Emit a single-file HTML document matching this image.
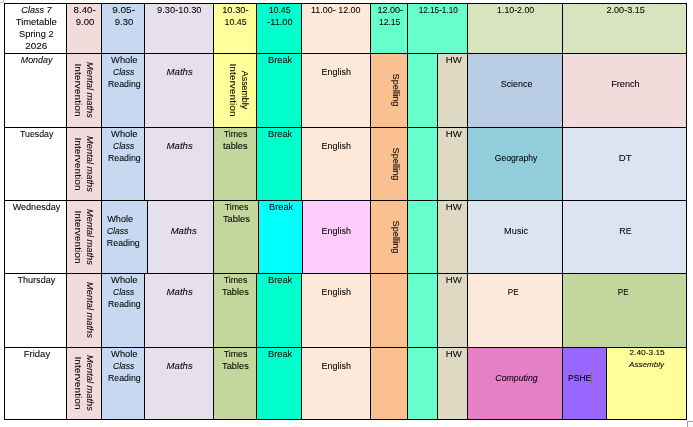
<!DOCTYPE html>
<html><head><meta charset="utf-8"><title>Class 7 Timetable</title>
<style>
html,body{margin:0;padding:0;background:#fff;}
body{width:693px;height:427px;position:relative;overflow:hidden;font-family:"Liberation Sans",sans-serif;color:#000;}
.c{position:absolute;}
#tx{position:absolute;left:0;top:0;width:693px;height:427px;will-change:transform;}
.l{position:absolute;background:#000;}
.t{position:absolute;white-space:nowrap;line-height:12px;display:block;transform-origin:50% 50%;-webkit-text-stroke:0.07px #000;}
</style></head><body>
<div class="c" style="left:4px;top:3px;width:62px;height:50px;background:#FFFFFF"></div>
<div class="c" style="left:66px;top:3px;width:35px;height:50px;background:#F2DCDB"></div>
<div class="c" style="left:101px;top:3px;width:43px;height:50px;background:#C6D9F1"></div>
<div class="c" style="left:144px;top:3px;width:69px;height:50px;background:#E5E0EC"></div>
<div class="c" style="left:213px;top:3px;width:43px;height:50px;background:#FFFF99"></div>
<div class="c" style="left:256px;top:3px;width:45px;height:50px;background:#00FFCC"></div>
<div class="c" style="left:301px;top:3px;width:69px;height:50px;background:#FDE9D9"></div>
<div class="c" style="left:370px;top:3px;width:37px;height:50px;background:#66FFCC"></div>
<div class="c" style="left:407px;top:3px;width:60px;height:50px;background:#66FFCC"></div>
<div class="c" style="left:467px;top:3px;width:95px;height:50px;background:#D7E4BD"></div>
<div class="c" style="left:562px;top:3px;width:124px;height:50px;background:#D7E4BD"></div>
<div class="c" style="left:4px;top:53px;width:62px;height:74px;background:#FFFFFF"></div>
<div class="c" style="left:66px;top:53px;width:35px;height:74px;background:#F2DCDB"></div>
<div class="c" style="left:101px;top:53px;width:43px;height:74px;background:#C6D9F1"></div>
<div class="c" style="left:144px;top:53px;width:69px;height:74px;background:#E5E0EC"></div>
<div class="c" style="left:213px;top:53px;width:43px;height:74px;background:#FFFF99"></div>
<div class="c" style="left:256px;top:53px;width:45px;height:74px;background:#00FFCC"></div>
<div class="c" style="left:301px;top:53px;width:69px;height:74px;background:#FDE9D9"></div>
<div class="c" style="left:370px;top:53px;width:37px;height:74px;background:#FAC090"></div>
<div class="c" style="left:407px;top:53px;width:30px;height:74px;background:#66FFCC"></div>
<div class="c" style="left:437px;top:53px;width:30px;height:74px;background:#DDD9C3"></div>
<div class="c" style="left:467px;top:53px;width:95px;height:74px;background:#B8CCE4"></div>
<div class="c" style="left:562px;top:53px;width:124px;height:74px;background:#F2DCDB"></div>
<div class="c" style="left:4px;top:127px;width:62px;height:73px;background:#FFFFFF"></div>
<div class="c" style="left:66px;top:127px;width:35px;height:73px;background:#F2DCDB"></div>
<div class="c" style="left:101px;top:127px;width:43px;height:73px;background:#C6D9F1"></div>
<div class="c" style="left:144px;top:127px;width:69px;height:73px;background:#E5E0EC"></div>
<div class="c" style="left:213px;top:127px;width:43px;height:73px;background:#C3D69B"></div>
<div class="c" style="left:256px;top:127px;width:45px;height:73px;background:#00FFCC"></div>
<div class="c" style="left:301px;top:127px;width:69px;height:73px;background:#FDE9D9"></div>
<div class="c" style="left:370px;top:127px;width:37px;height:73px;background:#FAC090"></div>
<div class="c" style="left:407px;top:127px;width:30px;height:73px;background:#66FFCC"></div>
<div class="c" style="left:437px;top:127px;width:30px;height:73px;background:#DDD9C3"></div>
<div class="c" style="left:467px;top:127px;width:95px;height:73px;background:#92CDDC"></div>
<div class="c" style="left:562px;top:127px;width:124px;height:73px;background:#DBE5F1"></div>
<div class="c" style="left:4px;top:200px;width:62px;height:73px;background:#FFFFFF"></div>
<div class="c" style="left:66px;top:200px;width:35px;height:73px;background:#F2DCDB"></div>
<div class="c" style="left:101px;top:200px;width:46px;height:73px;background:#C6D9F1"></div>
<div class="c" style="left:147px;top:200px;width:66px;height:73px;background:#E5E0EC"></div>
<div class="c" style="left:213px;top:200px;width:45px;height:73px;background:#C3D69B"></div>
<div class="c" style="left:258px;top:200px;width:44px;height:73px;background:#00FFFF"></div>
<div class="c" style="left:302px;top:200px;width:68px;height:73px;background:#FFCCFF"></div>
<div class="c" style="left:370px;top:200px;width:37px;height:73px;background:#FAC090"></div>
<div class="c" style="left:407px;top:200px;width:30px;height:73px;background:#66FFCC"></div>
<div class="c" style="left:437px;top:200px;width:30px;height:73px;background:#DDD9C3"></div>
<div class="c" style="left:467px;top:200px;width:95px;height:73px;background:#DBE5F1"></div>
<div class="c" style="left:562px;top:200px;width:124px;height:73px;background:#DBE5F1"></div>
<div class="c" style="left:4px;top:273px;width:62px;height:74px;background:#FFFFFF"></div>
<div class="c" style="left:66px;top:273px;width:35px;height:74px;background:#F2DCDB"></div>
<div class="c" style="left:101px;top:273px;width:43px;height:74px;background:#C6D9F1"></div>
<div class="c" style="left:144px;top:273px;width:69px;height:74px;background:#E5E0EC"></div>
<div class="c" style="left:213px;top:273px;width:43px;height:74px;background:#C3D69B"></div>
<div class="c" style="left:256px;top:273px;width:45px;height:74px;background:#00FFCC"></div>
<div class="c" style="left:301px;top:273px;width:69px;height:74px;background:#FDE9D9"></div>
<div class="c" style="left:370px;top:273px;width:37px;height:74px;background:#FAC090"></div>
<div class="c" style="left:407px;top:273px;width:30px;height:74px;background:#66FFCC"></div>
<div class="c" style="left:437px;top:273px;width:30px;height:74px;background:#DDD9C3"></div>
<div class="c" style="left:467px;top:273px;width:95px;height:74px;background:#FDE9D9"></div>
<div class="c" style="left:562px;top:273px;width:124px;height:74px;background:#C3D69B"></div>
<div class="c" style="left:4px;top:347px;width:62px;height:72px;background:#FFFFFF"></div>
<div class="c" style="left:66px;top:347px;width:35px;height:72px;background:#F2DCDB"></div>
<div class="c" style="left:101px;top:347px;width:43px;height:72px;background:#C6D9F1"></div>
<div class="c" style="left:144px;top:347px;width:69px;height:72px;background:#E5E0EC"></div>
<div class="c" style="left:213px;top:347px;width:43px;height:72px;background:#C3D69B"></div>
<div class="c" style="left:256px;top:347px;width:45px;height:72px;background:#00FFCC"></div>
<div class="c" style="left:301px;top:347px;width:69px;height:72px;background:#FDE9D9"></div>
<div class="c" style="left:370px;top:347px;width:37px;height:72px;background:#FAC090"></div>
<div class="c" style="left:407px;top:347px;width:30px;height:72px;background:#66FFCC"></div>
<div class="c" style="left:437px;top:347px;width:30px;height:72px;background:#DDD9C3"></div>
<div class="c" style="left:467px;top:347px;width:95px;height:72px;background:#E47FC8"></div>
<div class="c" style="left:562px;top:347px;width:44px;height:72px;background:#9966FF"></div>
<div class="c" style="left:606px;top:347px;width:80px;height:72px;background:#FFFF99"></div>
<div class="l" style="left:4px;top:53px;width:1px;height:75px"></div>
<div class="l" style="left:66px;top:53px;width:1px;height:75px"></div>
<div class="l" style="left:101px;top:53px;width:1px;height:75px"></div>
<div class="l" style="left:144px;top:53px;width:1px;height:75px"></div>
<div class="l" style="left:213px;top:53px;width:1px;height:75px"></div>
<div class="l" style="left:256px;top:53px;width:1px;height:75px"></div>
<div class="l" style="left:301px;top:53px;width:1px;height:75px"></div>
<div class="l" style="left:370px;top:53px;width:1px;height:75px"></div>
<div class="l" style="left:407px;top:53px;width:1px;height:75px"></div>
<div class="l" style="left:437px;top:53px;width:1px;height:75px"></div>
<div class="l" style="left:467px;top:53px;width:1px;height:75px"></div>
<div class="l" style="left:562px;top:53px;width:1px;height:75px"></div>
<div class="l" style="left:686px;top:53px;width:1px;height:75px"></div>
<div class="l" style="left:4px;top:127px;width:1px;height:74px"></div>
<div class="l" style="left:66px;top:127px;width:1px;height:74px"></div>
<div class="l" style="left:101px;top:127px;width:1px;height:74px"></div>
<div class="l" style="left:144px;top:127px;width:1px;height:74px"></div>
<div class="l" style="left:213px;top:127px;width:1px;height:74px"></div>
<div class="l" style="left:256px;top:127px;width:1px;height:74px"></div>
<div class="l" style="left:301px;top:127px;width:1px;height:74px"></div>
<div class="l" style="left:370px;top:127px;width:1px;height:74px"></div>
<div class="l" style="left:407px;top:127px;width:1px;height:74px"></div>
<div class="l" style="left:437px;top:127px;width:1px;height:74px"></div>
<div class="l" style="left:467px;top:127px;width:1px;height:74px"></div>
<div class="l" style="left:562px;top:127px;width:1px;height:74px"></div>
<div class="l" style="left:686px;top:127px;width:1px;height:74px"></div>
<div class="l" style="left:4px;top:200px;width:1px;height:74px"></div>
<div class="l" style="left:66px;top:200px;width:1px;height:74px"></div>
<div class="l" style="left:101px;top:200px;width:1px;height:74px"></div>
<div class="l" style="left:147px;top:200px;width:1px;height:74px"></div>
<div class="l" style="left:213px;top:200px;width:1px;height:74px"></div>
<div class="l" style="left:258px;top:200px;width:1px;height:74px"></div>
<div class="l" style="left:302px;top:200px;width:1px;height:74px"></div>
<div class="l" style="left:370px;top:200px;width:1px;height:74px"></div>
<div class="l" style="left:407px;top:200px;width:1px;height:74px"></div>
<div class="l" style="left:437px;top:200px;width:1px;height:74px"></div>
<div class="l" style="left:467px;top:200px;width:1px;height:74px"></div>
<div class="l" style="left:562px;top:200px;width:1px;height:74px"></div>
<div class="l" style="left:686px;top:200px;width:1px;height:74px"></div>
<div class="l" style="left:4px;top:273px;width:1px;height:75px"></div>
<div class="l" style="left:66px;top:273px;width:1px;height:75px"></div>
<div class="l" style="left:101px;top:273px;width:1px;height:75px"></div>
<div class="l" style="left:144px;top:273px;width:1px;height:75px"></div>
<div class="l" style="left:213px;top:273px;width:1px;height:75px"></div>
<div class="l" style="left:256px;top:273px;width:1px;height:75px"></div>
<div class="l" style="left:301px;top:273px;width:1px;height:75px"></div>
<div class="l" style="left:370px;top:273px;width:1px;height:75px"></div>
<div class="l" style="left:407px;top:273px;width:1px;height:75px"></div>
<div class="l" style="left:437px;top:273px;width:1px;height:75px"></div>
<div class="l" style="left:467px;top:273px;width:1px;height:75px"></div>
<div class="l" style="left:562px;top:273px;width:1px;height:75px"></div>
<div class="l" style="left:686px;top:273px;width:1px;height:75px"></div>
<div class="l" style="left:4px;top:347px;width:1px;height:73px"></div>
<div class="l" style="left:66px;top:347px;width:1px;height:73px"></div>
<div class="l" style="left:101px;top:347px;width:1px;height:73px"></div>
<div class="l" style="left:144px;top:347px;width:1px;height:73px"></div>
<div class="l" style="left:213px;top:347px;width:1px;height:73px"></div>
<div class="l" style="left:256px;top:347px;width:1px;height:73px"></div>
<div class="l" style="left:301px;top:347px;width:1px;height:73px"></div>
<div class="l" style="left:370px;top:347px;width:1px;height:73px"></div>
<div class="l" style="left:407px;top:347px;width:1px;height:73px"></div>
<div class="l" style="left:437px;top:347px;width:1px;height:73px"></div>
<div class="l" style="left:467px;top:347px;width:1px;height:73px"></div>
<div class="l" style="left:562px;top:347px;width:1px;height:73px"></div>
<div class="l" style="left:686px;top:347px;width:1px;height:73px"></div>
<div class="l" style="left:606px;top:347px;width:1px;height:73px"></div>
<div class="l" style="left:4px;top:3px;width:1px;height:51px"></div>
<div class="l" style="left:66px;top:3px;width:1px;height:51px"></div>
<div class="l" style="left:101px;top:3px;width:1px;height:51px"></div>
<div class="l" style="left:144px;top:3px;width:1px;height:51px"></div>
<div class="l" style="left:213px;top:3px;width:1px;height:51px"></div>
<div class="l" style="left:256px;top:3px;width:1px;height:51px"></div>
<div class="l" style="left:301px;top:3px;width:1px;height:51px"></div>
<div class="l" style="left:370px;top:3px;width:1px;height:51px"></div>
<div class="l" style="left:407px;top:3px;width:1px;height:51px"></div>
<div class="l" style="left:467px;top:3px;width:1px;height:51px"></div>
<div class="l" style="left:562px;top:3px;width:1px;height:51px"></div>
<div class="l" style="left:686px;top:3px;width:1px;height:51px"></div>
<div class="l" style="left:4px;top:3px;width:683px;height:1px"></div>
<div class="l" style="left:4px;top:53px;width:683px;height:1px"></div>
<div class="l" style="left:4px;top:127px;width:683px;height:1px"></div>
<div class="l" style="left:4px;top:200px;width:683px;height:1px"></div>
<div class="l" style="left:4px;top:273px;width:683px;height:1px"></div>
<div class="l" style="left:4px;top:347px;width:683px;height:1px"></div>
<div class="l" style="left:4px;top:419px;width:683px;height:1px"></div>
<div id="tx">
<span class="t" style="left:21.29px;top:3.78px;font-size:9.3px;transform:scaleX(0.976);font-style:italic;">Class 7</span>
<span class="t" style="left:16.41px;top:15.78px;font-size:9.3px;transform:scaleX(1.013);">Timetable</span>
<span class="t" style="left:19.08px;top:27.78px;font-size:9.3px;transform:scaleX(0.996);">Spring 2</span>
<span class="t" style="left:26.11px;top:39.78px;font-size:9.3px;transform:scaleX(1.066);">2026</span>
<span class="t" style="left:74.25px;top:3.78px;font-size:9.3px;transform:scaleX(1.040);">8.40-</span>
<span class="t" style="left:75.55px;top:15.78px;font-size:9.3px;transform:scaleX(1.023);">9.00</span>
<span class="t" style="left:113.30px;top:3.78px;font-size:9.3px;transform:scaleX(1.074);">9.05-</span>
<span class="t" style="left:114.75px;top:15.78px;font-size:9.3px;transform:scaleX(1.023);">9.30</span>
<span class="t" style="left:157.06px;top:3.78px;font-size:9.3px;">9.30-10.30</span>
<span class="t" style="left:222.21px;top:3.78px;font-size:9.3px;">10.30-</span>
<span class="t" style="left:223.51px;top:15.78px;font-size:9.3px;transform:scaleX(0.952);">10.45</span>
<span class="t" style="left:267.61px;top:3.78px;font-size:9.3px;transform:scaleX(0.943);">10.45</span>
<span class="t" style="left:266.76px;top:15.78px;font-size:9.3px;transform:scaleX(0.985);">-11.00</span>
<span class="t" style="left:309.98px;top:3.78px;font-size:9.3px;transform:scaleX(0.962);">11.00- 12.00</span>
<span class="t" style="left:376.81px;top:3.78px;font-size:9.3px;transform:scaleX(0.966);">12.00-</span>
<span class="t" style="left:378.36px;top:15.78px;font-size:9.3px;transform:scaleX(0.921);">12.15</span>
<span class="t" style="left:416.06px;top:3.78px;font-size:9.3px;transform:scaleX(0.881);">12.15-1.10</span>
<span class="t" style="left:496.20px;top:3.78px;font-size:9.3px;transform:scaleX(0.945);">1.10-2.00</span>
<span class="t" style="left:605.55px;top:3.78px;font-size:9.3px;transform:scaleX(0.979);">2.00-3.15</span>
<span class="t" style="left:20.11px;top:53.78px;font-size:9.3px;transform:scaleX(0.954);font-style:italic;">Monday</span>
<span class="t" style="left:62.11px;top:83.70px;font-size:9.3px;transform:rotate(90deg);font-style:italic;">Mental maths</span>
<span class="t" style="left:53.92px;top:83.70px;font-size:9.3px;transform:rotate(90deg) scaleX(1.094);">Intervention</span>
<span class="t" style="left:111.12px;top:53.78px;font-size:9.3px;">Whole</span>
<span class="t" style="left:112.32px;top:65.78px;font-size:9.3px;transform:scaleX(0.908);font-style:italic;">Class</span>
<span class="t" style="left:106.58px;top:77.78px;font-size:9.3px;transform:scaleX(0.942);">Reading</span>
<span class="t" style="left:166.94px;top:65.78px;font-size:9.3px;transform:scaleX(1.032);font-style:italic;">Maths</span>
<span class="t" style="left:225.27px;top:83.70px;font-size:9.3px;transform:rotate(90deg) scaleX(0.949);">Assembly</span>
<span class="t" style="left:209.12px;top:83.70px;font-size:9.3px;transform:rotate(90deg) scaleX(1.094);">Intervention</span>
<span class="t" style="left:267.70px;top:53.78px;font-size:9.3px;transform:scaleX(0.996);">Break</span>
<span class="t" style="left:320.70px;top:65.78px;font-size:9.3px;transform:scaleX(0.963);">English</span>
<span class="t" style="left:378.98px;top:83.70px;font-size:9.3px;transform:rotate(90deg);">Spelling</span>
<span class="t" style="left:445.55px;top:53.78px;font-size:9.3px;transform:scaleX(1.028);">HW</span>
<span class="t" style="left:499.56px;top:77.78px;font-size:9.3px;transform:scaleX(0.957);">Science</span>
<span class="t" style="left:610.73px;top:77.78px;font-size:9.3px;transform:scaleX(0.984);">French</span>
<span class="t" style="left:19.24px;top:127.78px;font-size:9.3px;transform:scaleX(0.947);">Tuesday</span>
<span class="t" style="left:62.11px;top:157.50px;font-size:9.3px;transform:rotate(90deg);font-style:italic;">Mental maths</span>
<span class="t" style="left:53.92px;top:157.50px;font-size:9.3px;transform:rotate(90deg) scaleX(1.094);">Intervention</span>
<span class="t" style="left:111.12px;top:127.78px;font-size:9.3px;">Whole</span>
<span class="t" style="left:112.32px;top:139.78px;font-size:9.3px;transform:scaleX(0.908);font-style:italic;">Class</span>
<span class="t" style="left:106.58px;top:151.78px;font-size:9.3px;transform:scaleX(0.942);">Reading</span>
<span class="t" style="left:166.94px;top:139.78px;font-size:9.3px;transform:scaleX(1.032);font-style:italic;">Maths</span>
<span class="t" style="left:222.71px;top:127.78px;font-size:9.3px;transform:scaleX(0.947);">Times</span>
<span class="t" style="left:222.89px;top:139.78px;font-size:9.3px;">tables</span>
<span class="t" style="left:267.70px;top:127.78px;font-size:9.3px;transform:scaleX(0.996);">Break</span>
<span class="t" style="left:320.70px;top:139.78px;font-size:9.3px;transform:scaleX(0.963);">English</span>
<span class="t" style="left:378.98px;top:157.50px;font-size:9.3px;transform:rotate(90deg);">Spelling</span>
<span class="t" style="left:445.55px;top:127.78px;font-size:9.3px;transform:scaleX(1.028);">HW</span>
<span class="t" style="left:492.99px;top:151.78px;font-size:9.3px;transform:scaleX(0.927);">Geography</span>
<span class="t" style="left:619.40px;top:151.78px;font-size:9.3px;transform:scaleX(1.044);">DT</span>
<span class="t" style="left:11.93px;top:200.78px;font-size:9.3px;transform:scaleX(0.974);">Wednesday</span>
<span class="t" style="left:62.11px;top:230.50px;font-size:9.3px;transform:rotate(90deg);font-style:italic;">Mental maths</span>
<span class="t" style="left:53.92px;top:230.50px;font-size:9.3px;transform:rotate(90deg) scaleX(1.094);">Intervention</span>
<span class="t" style="left:106.87px;top:212.78px;font-size:9.3px;transform:scaleX(0.986);">Whole</span>
<span class="t" style="left:105.67px;top:224.78px;font-size:9.3px;transform:scaleX(0.921);font-style:italic;">Class</span>
<span class="t" style="left:105.53px;top:237.08px;font-size:9.3px;transform:scaleX(0.951);">Reading</span>
<span class="t" style="left:170.69px;top:224.78px;font-size:9.3px;transform:scaleX(1.028);font-style:italic;">Maths</span>
<span class="t" style="left:224.21px;top:200.78px;font-size:9.3px;transform:scaleX(0.947);">Times</span>
<span class="t" style="left:222.96px;top:212.78px;font-size:9.3px;transform:scaleX(1.008);">Tables</span>
<span class="t" style="left:269.30px;top:200.78px;font-size:9.3px;transform:scaleX(0.996);">Break</span>
<span class="t" style="left:321.25px;top:224.78px;font-size:9.3px;transform:scaleX(0.966);">English</span>
<span class="t" style="left:378.98px;top:230.50px;font-size:9.3px;transform:rotate(90deg);">Spelling</span>
<span class="t" style="left:445.55px;top:200.78px;font-size:9.3px;transform:scaleX(1.028);">HW</span>
<span class="t" style="left:503.86px;top:224.78px;font-size:9.3px;transform:scaleX(0.992);">Music</span>
<span class="t" style="left:618.64px;top:224.78px;font-size:9.3px;transform:scaleX(0.948);">RE</span>
<span class="t" style="left:17.12px;top:273.78px;font-size:9.3px;transform:scaleX(0.977);">Thursday</span>
<span class="t" style="left:62.11px;top:304.00px;font-size:9.3px;transform:rotate(90deg);font-style:italic;">Mental maths</span>
<span class="t" style="left:111.12px;top:273.78px;font-size:9.3px;">Whole</span>
<span class="t" style="left:112.32px;top:285.78px;font-size:9.3px;transform:scaleX(0.908);font-style:italic;">Class</span>
<span class="t" style="left:106.58px;top:297.78px;font-size:9.3px;transform:scaleX(0.942);">Reading</span>
<span class="t" style="left:166.94px;top:285.78px;font-size:9.3px;transform:scaleX(1.032);font-style:italic;">Maths</span>
<span class="t" style="left:222.71px;top:273.78px;font-size:9.3px;transform:scaleX(0.947);">Times</span>
<span class="t" style="left:221.96px;top:285.78px;font-size:9.3px;transform:scaleX(0.993);">Tables</span>
<span class="t" style="left:267.70px;top:273.78px;font-size:9.3px;transform:scaleX(0.996);">Break</span>
<span class="t" style="left:320.70px;top:285.78px;font-size:9.3px;transform:scaleX(0.963);">English</span>
<span class="t" style="left:445.55px;top:273.78px;font-size:9.3px;transform:scaleX(1.028);">HW</span>
<span class="t" style="left:507.20px;top:285.78px;font-size:9.3px;transform:scaleX(0.869);">PE</span>
<span class="t" style="left:616.50px;top:285.78px;font-size:9.3px;transform:scaleX(0.869);">PE</span>
<span class="t" style="left:23.68px;top:347.78px;font-size:9.3px;transform:scaleX(1.026);">Friday</span>
<span class="t" style="left:62.11px;top:377.00px;font-size:9.3px;transform:rotate(90deg);font-style:italic;">Mental maths</span>
<span class="t" style="left:53.92px;top:377.00px;font-size:9.3px;transform:rotate(90deg) scaleX(1.094);">Intervention</span>
<span class="t" style="left:111.12px;top:347.78px;font-size:9.3px;">Whole</span>
<span class="t" style="left:112.32px;top:359.78px;font-size:9.3px;transform:scaleX(0.908);font-style:italic;">Class</span>
<span class="t" style="left:106.58px;top:371.78px;font-size:9.3px;transform:scaleX(0.942);">Reading</span>
<span class="t" style="left:166.94px;top:359.78px;font-size:9.3px;transform:scaleX(1.032);font-style:italic;">Maths</span>
<span class="t" style="left:222.71px;top:347.78px;font-size:9.3px;transform:scaleX(0.947);">Times</span>
<span class="t" style="left:221.96px;top:359.78px;font-size:9.3px;transform:scaleX(0.993);">Tables</span>
<span class="t" style="left:267.70px;top:347.78px;font-size:9.3px;transform:scaleX(0.996);">Break</span>
<span class="t" style="left:320.70px;top:359.78px;font-size:9.3px;transform:scaleX(0.963);">English</span>
<span class="t" style="left:445.55px;top:347.78px;font-size:9.3px;transform:scaleX(1.028);">HW</span>
<span class="t" style="left:493.51px;top:371.78px;font-size:9.3px;transform:scaleX(0.939);font-style:italic;">Computing</span>
<span class="t" style="left:566.59px;top:371.78px;font-size:9.3px;transform:scaleX(0.921);">PSHE</span>
<span class="t" style="left:629.74px;top:347.19px;font-size:8.1px;transform:scaleX(1.032);">2.40-3.15</span>
<span class="t" style="left:629.49px;top:359.19px;font-size:8.1px;transform:scaleX(0.993);font-style:italic;">Assembly</span>
</div>
<div class="l" style="left:591px;top:372px;width:1px;height:12px;background:#669900"></div>
<div style="position:absolute;left:687px;top:421px;width:8px;height:8px;border:1px solid #9c9c9c;background:#fafafa;box-sizing:border-box"></div>
<div style="position:absolute;left:-5px;top:-5px;width:9px;height:8px;border:1px solid #c4c4c4;background:#f7f7f7;box-sizing:border-box"></div>
</body></html>
